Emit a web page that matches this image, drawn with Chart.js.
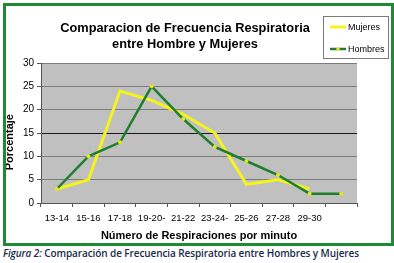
<!DOCTYPE html>
<html>
<head>
<meta charset="utf-8">
<script src="https://cdn.jsdelivr.net/npm/chart.js@4/dist/chart.umd.min.js"></script>
<style>
  body { margin: 0; background: #fff; width: 394px; height: 263px; overflow: hidden; }
  #frame {
    position: absolute; left: 3px; top: 3px;
    width: 385px; height: 237px;
    border: 3px solid #1e8a32;
  }
  #caption {
    position: absolute; left: 3px; top: 246px;
    font-family: "Open Sans", "Noto Sans", sans-serif;
    font-size: 10px; line-height: 15px; font-weight: 600;
    letter-spacing: -0.1px;
    color: #1a2b4c; white-space: nowrap;
  }
</style>
</head>
<body>
<div id="frame"><canvas id="chart" width="385" height="237"></canvas></div>
<div id="caption"><i>Figura 2:</i> Comparación de Frecuencia Respiratoria entre Hombres y Mujeres</div>

<script>
// 📊 datos
const categories = ["13-14", "15-16", "17-18", "19-20-", "21-22", "23-24-", "25-26", "27-28", "29-30", ""];
const mujeres = [3, 5, 24, 22, 19, 15, 4, 5, 3, null];
const hombres = [3, 10, 13, 25, 18, 12, 9, 6, 2, 2];
const yTicks = [0, 5, 10, 15, 20, 25, 30];
const titleLines = ["Comparacion de Frecuencia Respiratoria", "entre Hombre y Mujeres"];

const YELLOW = "#f4f41c";
const GREEN = "#1f7f2c";

// ✅ fondo gris del área de trazado
const plotBackground = {
  id: "plotBackground",
  beforeDraw(chart) {
    const { ctx, chartArea: a } = chart;
    ctx.save();
    ctx.fillStyle = "#c0c0c0";
    ctx.fillRect(a.left, a.top, a.right - a.left, a.bottom - a.top);
    ctx.restore();
  },
};

// ✅ título y leyenda con recuadro (estilo Excel)
const titleAndLegend = {
  id: "titleAndLegend",
  afterDraw(chart) {
    const { ctx } = chart;
    ctx.save();
    ctx.fillStyle = "#000";
    ctx.font = "bold 12.8px Arial, 'Liberation Sans', sans-serif";
    ctx.textAlign = "center";
    ctx.textBaseline = "middle";
    titleLines.forEach((t, i) => ctx.fillText(t, 179, 22 + i * 16.5));

    // recuadro de la leyenda
    ctx.fillStyle = "#fff";
    ctx.fillRect(317, 10, 65, 42);
    ctx.strokeStyle = "#7a7a7a";
    ctx.lineWidth = 1;
    ctx.strokeRect(317.5, 10.5, 65, 42);

    ctx.font = "9px Arial, 'Liberation Sans', sans-serif";
    ctx.textAlign = "left";
    chart.data.datasets.forEach((ds, i) => {
      const y = 21 + i * 22;
      ctx.strokeStyle = ds.borderColor;
      ctx.lineWidth = ds.borderWidth;
      ctx.beginPath();
      ctx.moveTo(324, y);
      ctx.lineTo(340, y);
      ctx.stroke();
      if (ds.pointRadius > 0) {
        ctx.fillStyle = ds.pointBackgroundColor;
        ctx.beginPath();
        ctx.arc(332, y, 1.8, 0, Math.PI * 2);
        ctx.fill();
      }
      ctx.fillStyle = "#000";
      ctx.fillText(ds.label, 342, y + 0.5);
    });
    ctx.restore();
  },
};

new Chart(document.getElementById("chart"), {
  type: "line",
  data: {
    labels: categories,
    datasets: [
      {
        label: "Mujeres",
        data: mujeres,
        borderColor: YELLOW,
        borderWidth: 3,
        pointRadius: 0,
        tension: 0,
        order: 1,
      },
      {
        label: "Hombres",
        data: hombres,
        borderColor: GREEN,
        borderWidth: 2.5,
        pointRadius: 2,
        pointBorderWidth: 0,
        pointBackgroundColor: "#e6e61a",
        tension: 0,
        order: 0,
      },
    ],
  },
  options: {
    responsive: false,
    devicePixelRatio: 1,
    animation: false,
    layout: { padding: { top: 57, left: 0, right: 34, bottom: 0 } },
    plugins: {
      legend: { display: false },
      title: { display: false },
      tooltip: { enabled: false },
    },
    scales: {
      x: {
        offset: true,
        grid: { offset: true, drawOnChartArea: false, tickLength: 4, tickColor: "#555" },
        border: { color: "#555", width: 1 },
        ticks: {
          color: "#000",
          padding: 6,
          maxRotation: 0,
          autoSkip: false,
          font: { family: "Arial, 'Liberation Sans', sans-serif", size: 9.5 },
        },
        title: {
          display: true,
          text: "Número de Respiraciones por minuto",
          color: "#000",
          padding: { top: 0, bottom: 0 },
          font: { family: "Arial, 'Liberation Sans', sans-serif", size: 11, weight: "bold" },
        },
        afterFit(scale) { scale.height = 40; },
      },
      y: {
        min: 0,
        max: 30,
        afterBuildTicks(scale) { scale.ticks = yTicks.map((v) => ({ value: v })); },
        grid: {
          color: (c) => (c.tick && c.tick.value === 15 ? "#1a1a1a" : "#7c7c7c"),
          tickColor: "#555",
          tickLength: 4,
        },
        border: { color: "#555", width: 1 },
        ticks: {
          color: "#000",
          padding: 3,
          font: { family: "Arial, 'Liberation Sans', sans-serif", size: 10 },
        },
        title: {
          display: true,
          text: "Porcentaje      ",
          color: "#000",
          padding: { top: -3, bottom: 0 },
          font: { family: "Arial, 'Liberation Sans', sans-serif", size: 11, weight: "bold" },
        },
        afterFit(scale) { scale.width = 35; },
      },
    },
  },
  plugins: [plotBackground, titleAndLegend],
});
</script>
</body>
</html>
